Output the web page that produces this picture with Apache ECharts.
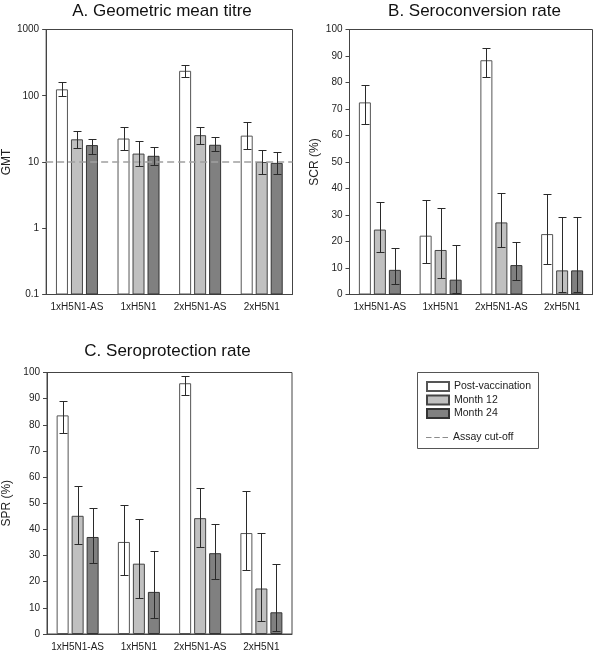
<!DOCTYPE html>
<html><head><meta charset="utf-8">
<script src="https://cdn.jsdelivr.net/npm/echarts@6/dist/echarts.min.js"></script>
<style>html,body{margin:0;padding:0;background:#fff}#c{width:600px;height:652px}</style>
</head><body><div id="c"></div>
<script>
const categories = ['1xH5N1-AS', '1xH5N1', '2xH5N1-AS', '2xH5N1'];
const seriesNames = ['Post-vaccination', 'Month 12', 'Month 24'];
const cutoffName = 'Assay cut-off';
const titles = ['A. Geometric mean titre', 'B. Seroconversion rate', 'C. Seroprotection rate'];
const axisNames = ['GMT', 'SCR (%)', 'SPR (%)'];
const gmtTicks = [0.1, 1, 10, 100, 1000];

// A. GMT (log scale)
const gmtPost = [125, 22.6, 238, 25];
const gmtPostLo = [98, 15, 191, 15.9];
const gmtPostHi = [160, 34, 289, 39.5];
const gmtM12 = [22, 13.4, 25.4, 10];
const gmtM12Lo = [16, 8.8, 18.8, 6.5];
const gmtM12Hi = [29, 20.6, 34, 15.1];
const gmtM24 = [18, 12.4, 18.2, 9.7];
const gmtM24Lo = [13.4, 9, 14.5, 6.7];
const gmtM24Hi = [22.4, 17, 24, 14];
const assayCutoff = 10;

// B. SCR (%)
const scrPost = [72.5, 22.2, 88.4, 22.8];
const scrPostLo = [64.5, 12, 82, 11.6];
const scrPostHi = [79.2, 35.7, 93, 37.8];
const scrM12 = [24.5, 16.8, 27.2, 9.1];
const scrM12Lo = [16, 6.3, 18, 1.1];
const scrM12Hi = [35, 32.8, 38.2, 29.3];
const scrM24 = [9.3, 5.6, 11.1, 9.1];
const scrM24Lo = [4, 0.7, 5.3, 1.1];
const scrM24Hi = [17.5, 18.8, 20, 29.3];

// C. SPR (%)
const sprPost = [83.6, 35.2, 95.9, 38.6];
const sprPostLo = [76.8, 22.7, 91.3, 24.4];
const sprPostHi = [89, 49.3, 98.5, 54.5];
const sprM12 = [45.2, 26.9, 44.3, 17.4];
const sprM12Lo = [34.5, 13.8, 33.4, 5.1];
const sprM12Hi = [56.5, 44.1, 55.9, 38.7];
const sprM24 = [37.1, 16.1, 30.9, 8.3];
const sprM24Lo = [27, 6.2, 21.1, 1];
const sprM24Hi = [48.3, 31.9, 42.1, 26.9];

const FONT = 'Liberation Sans, Arial, Helvetica, sans-serif';
const barStyles = [
  {color: '#ffffff', borderColor: '#555555', borderWidth: 1},
  {color: '#c0c0c0', borderColor: '#444444', borderWidth: 1},
  {color: '#808080', borderColor: '#333333', borderWidth: 1}
];
const BW = 12, GAP = 0.25, STEP = BW * (1 + GAP);

const grids = [
  {left: 41.5, top: 29.5, width: 251, height: 265},
  {left: 349.5, top: 29.5, width: 243, height: 265},
  {left: 42.5, top: 372.5, width: 249.5, height: 263.5}
];

function renderErr(params, api) {
  const i = api.value(0), lo = api.value(1), hi = api.value(2), s = api.value(3);
  const pLo = api.coord([i, lo]), pHi = api.coord([i, hi]);
  const x = Math.round(pLo[0] + (s - 1) * STEP) + 0.5;
  const yl = Math.round(pLo[1]) + 0.5, yh = Math.round(pHi[1]) + 0.5;
  const cap = 4;
  const st = {stroke: '#2a2a2a', lineWidth: 1};
  return {type: 'group', children: [
    {type: 'line', shape: {x1: x, y1: yl, x2: x, y2: yh}, style: st},
    {type: 'line', shape: {x1: x - cap, y1: yh, x2: x + cap, y2: yh}, style: st},
    {type: 'line', shape: {x1: x - cap, y1: yl, x2: x + cap, y2: yl}, style: st}
  ]};
}

const panels = [
  {vals: [gmtPost, gmtM12, gmtM24], lo: [gmtPostLo, gmtM12Lo, gmtM24Lo], hi: [gmtPostHi, gmtM12Hi, gmtM24Hi]},
  {vals: [scrPost, scrM12, scrM24], lo: [scrPostLo, scrM12Lo, scrM24Lo], hi: [scrPostHi, scrM12Hi, scrM24Hi]},
  {vals: [sprPost, sprM12, sprM24], lo: [sprPostLo, sprM12Lo, sprM24Lo], hi: [sprPostHi, sprM12Hi, sprM24Hi]}
];

const series = [];
panels.forEach((p, idx) => {
  p.vals.forEach((v, s) => {
    series.push({
      type: 'bar', name: seriesNames[s], xAxisIndex: idx, yAxisIndex: idx,
      data: v, barWidth: BW, barGap: (GAP * 100) + '%', itemStyle: barStyles[s],
      silent: true, z: 2
    });
  });
  const errData = [];
  p.vals.forEach((v, s) => {
    v.forEach((_, i) => errData.push([i, p.lo[s][i], p.hi[s][i], s]));
  });
  series.push({
    type: 'custom', xAxisIndex: idx, yAxisIndex: idx, data: errData,
    renderItem: renderErr, silent: true, z: 5, encode: {x: 0, y: [1, 2]}
  });
});
series.push({
  type: 'line', name: cutoffName, xAxisIndex: 0, yAxisIndex: 0, data: [],
  symbol: 'none', showSymbol: false, lineStyle: {color: '#8c8c8c', width: 1, type: [5, 3]},
  itemStyle: {color: '#8c8c8c'}, z: 3,
  markLine: {
    silent: true, symbol: 'none', label: {show: false},
    lineStyle: {color: '#a0a0a0', width: 1.6, type: [7, 4]},
    data: [{yAxis: assayCutoff}]
  }
});

const xAxes = grids.map((g, idx) => ({
  type: 'category', gridIndex: idx, data: categories,
  axisLine: {show: true, lineStyle: {color: '#444', width: 1}},
  axisTick: {show: false},
  axisLabel: {fontSize: 10, color: '#222', fontFamily: FONT, margin: 8, interval: 0}
}));

const yCommon = {
  nameLocation: 'middle',
  nameTextStyle: {fontSize: 12, color: '#222', fontFamily: FONT},
  axisLine: {show: true, lineStyle: {color: '#444', width: 1}},
  axisTick: {show: true, inside: false, length: 4, lineStyle: {color: '#444'}},
  axisLabel: {fontSize: 10, color: '#222', fontFamily: FONT, margin: 7},
  splitLine: {show: false}
};
const yAxes = [
  Object.assign({}, yCommon, {
    type: 'log', logBase: 10, gridIndex: 0, min: gmtTicks[0], max: gmtTicks[gmtTicks.length - 1],
    startValue: gmtTicks[0], name: axisNames[0], nameGap: 26,
    axisLabel: Object.assign({}, yCommon.axisLabel, {formatter: v => String(+v.toPrecision(3))})
  }),
  Object.assign({}, yCommon, {type: 'value', gridIndex: 1, min: 0, max: 100, interval: 10, name: axisNames[1], nameGap: 29}),
  Object.assign({}, yCommon, {type: 'value', gridIndex: 2, min: 0, max: 100, interval: 10, name: axisNames[2], nameGap: 34})
];

const titlePos = [[162, 11], [474.5, 11], [167.5, 351]];
const graphics = titles.map((t, i) => ({
  type: 'text', x: titlePos[i][0], y: titlePos[i][1], silent: true,
  style: {text: t, font: '17px ' + FONT, fill: '#111', align: 'center', verticalAlign: 'middle',
    textAlign: 'center', textVerticalAlign: 'middle'}
}));
graphics.push({
  type: 'rect', silent: true, shape: {x: 417.5, y: 372.5, width: 121, height: 76},
  style: {fill: 'none', stroke: '#555', lineWidth: 1}
});

const legendText = {fontSize: 10.5, color: '#222', fontFamily: FONT, lineHeight: 11};
const option = {
  backgroundColor: '#fff',
  animation: false,
  grid: grids.map(g => Object.assign({show: true, borderColor: '#444', borderWidth: 1,
    backgroundColor: 'transparent', containLabel: false}, g)),
  xAxis: xAxes,
  yAxis: yAxes,
  legend: [
    {data: seriesNames, orient: 'vertical', left: 421, top: 376, itemWidth: 22, itemHeight: 9,
      itemGap: 2.5, icon: 'rect', selectedMode: false, textStyle: legendText},
    {data: [{name: cutoffName, icon: 'path://M0,0h5.5v1.2h-5.5zM8.25,0h5.5v1.2h-5.5zM16.5,0h5.5v1.2h-5.5z'}],
      orient: 'vertical', left: 421, top: 427, itemWidth: 22, itemHeight: 9,
      selectedMode: false, textStyle: legendText}
  ],
  graphic: graphics,
  series: series
};

const chart = echarts.init(document.getElementById('c'), null, {renderer: 'canvas'});
chart.setOption(option);
</script>
</body></html>
